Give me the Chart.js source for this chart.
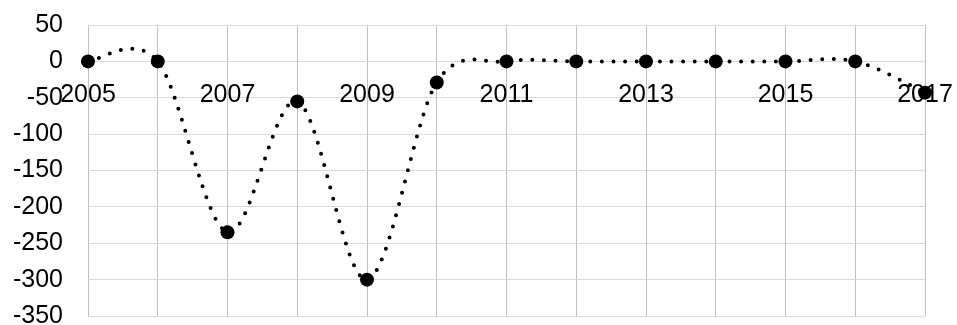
<!DOCTYPE html>
<html>
<head>
<meta charset="utf-8">
<script src="https://cdn.jsdelivr.net/npm/chart.js@4/dist/chart.umd.min.js"></script>
<style>
  body { margin: 0; background: #fff; }
  #wrap { width: 957px; height: 325px; position: relative; }
</style>
</head>
<body>
<div id="wrap"><canvas id="chart"></canvas></div>
<script>
// data
const years = ['2005', '2006', '2007', '2008', '2009', '2010', '2011', '2012', '2013', '2014', '2015', '2016', '2017'];
const values = [0, 0, -235, -55, -300, -29, 0, 0, 0, 0, 0, 0, -43];
const yMin = -350;
const yMax = 50;
const yStep = 50;

// Excel-style smoothing: plain Catmull-Rom control points instead of
// Chart.js's distance-weighted ones (gives the overshoot above 0 in 2005/06)
const catmullRom = {
  id: 'catmullRom',
  beforeDatasetDraw(chart, args) {
    const meta = args.meta;
    meta.dataset.updateControlPoints(chart.chartArea, 'x');
    const pts = meta.data;
    pts.forEach((p, i) => {
      const prev = pts[Math.max(i - 1, 0)];
      const next = pts[Math.min(i + 1, pts.length - 1)];
      const dx = (next.x - prev.x) / 6;
      const dy = (next.y - prev.y) / 6;
      p.cp1x = p.x - dx;
      p.cp1y = p.y - dy;
      p.cp2x = p.x + dx;
      p.cp2y = p.y + dy;
    });
  },
};

const ctx = document.getElementById('chart').getContext('2d');
new Chart(ctx, {
  type: 'line',
  data: {
    labels: years,
    datasets: [
      {
        data: values,
        borderColor: '#000',
        borderWidth: 4,
        borderDash: [0, 11.6],
        borderCapStyle: 'round',
        tension: 0.4,
        pointRadius: 7,
        pointBackgroundColor: '#000',
        pointBorderColor: '#000',
        pointBorderWidth: 0,
      },
    ],
  },
  plugins: [catmullRom],
  options: {
    responsive: true,
    maintainAspectRatio: false,
    animation: false,
    layout: {
      padding: { top: 25, right: 32, bottom: 9, left: 0 },
    },
    plugins: {
      legend: { display: false },
      tooltip: { enabled: false },
    },
    scales: {
      x: {
        position: { y: 0 },
        offset: false,
        // axis sits on y = 0, so it should not take room at the bottom
        afterFit: (s) => { s.height = 0; s.paddingLeft = 0; s.paddingRight = 0; },
        grid: { color: '#c0c0c0', drawTicks: false },
        border: { display: false },
        ticks: {
          autoSkip: false,
          maxRotation: 0,
          padding: 19,
          color: '#000',
          font: { family: 'Liberation Sans, Arial, sans-serif', size: 25 },
          callback: function (val, i) {
            return i % 2 === 0 ? years[i] : '';
          },
        },
      },
      y: {
        min: yMin,
        max: yMax,
        afterFit: (s) => { s.width = 88; s.paddingTop = 0; s.paddingBottom = 0; },
        grid: { color: '#d9d9d9', drawTicks: false },
        border: { display: false },
        ticks: {
          stepSize: yStep,
          padding: 25,
          color: '#000',
          font: { family: 'Liberation Sans, Arial, sans-serif', size: 25 },
        },
      },
    },
  },
});
</script>
</body>
</html>
